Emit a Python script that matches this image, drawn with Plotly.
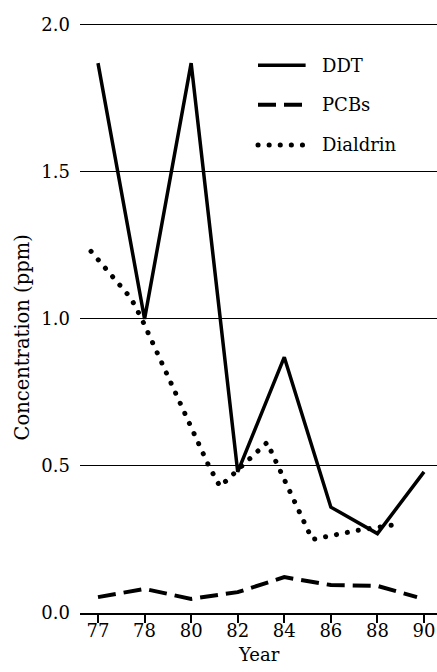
import plotly.graph_objects as go

# ---- data ----
year_labels = ["77", "78", "80", "82", "84", "86", "88", "90"]
year_slots = [0, 1, 2, 3, 4, 5, 6, 7]          # equally spaced tick slots

ddt_x = [0, 1, 2, 3, 4, 5, 6, 7]
ddt_y = [1.87, 1.00, 1.87, 0.48, 0.87, 0.36, 0.27, 0.48]

pcb_x = [0, 1, 2, 3, 4, 5, 6, 6.85]
pcb_y = [0.054, 0.082, 0.048, 0.071, 0.122, 0.095, 0.092, 0.054]

dial_x = [-0.15, 0.71, 0.94, 2.38, 2.62, 3.63, 4.60, 5.54, 6.36]
dial_y = [1.23, 1.07, 1.00, 0.50, 0.43, 0.58, 0.25, 0.28, 0.30]

y_ticks = [0.0, 0.5, 1.0, 1.5, 2.0]
series_names = ["DDT", "PCBs", "Dialdrin"]

FONT = "DejaVu Serif"
DOT_DASH = "0.1px,11px"
PCB_DASH = "18px,8px"

fig = go.Figure()
fig.add_trace(go.Scatter(x=ddt_x, y=ddt_y, mode="lines", name=series_names[0],
                         line=dict(color="black", width=3.5)))
fig.add_trace(go.Scatter(x=pcb_x, y=pcb_y, mode="lines", name=series_names[1],
                         line=dict(color="black", width=4, dash=PCB_DASH)))
fig.add_trace(go.Scatter(x=dial_x, y=dial_y, mode="lines", name=series_names[2],
                         line=dict(color="black", width=5, dash=DOT_DASH)))

# manual legend (line samples + labels)
leg_rows = [0.927, 0.860, 0.792]
leg_styles = [dict(width=3.5), dict(width=4, dash=PCB_DASH), dict(width=5, dash=DOT_DASH)]
shapes = []
annotations = []
for name, yy, st in zip(series_names, leg_rows, leg_styles):
    shapes.append(dict(type="line", xref="paper", yref="paper", x0=0.4986, x1=0.632,
                       y0=yy, y1=yy, line=dict(color="black", **st)))
    annotations.append(dict(text=name, xref="paper", yref="paper", x=0.672, y=yy,
                            xanchor="left", yanchor="middle", showarrow=False,
                            font=dict(family=FONT, size=18, color="black")))

annotations.append(dict(text="Concentration (ppm)", xref="paper", yref="paper",
                        x=-0.16, y=0.466, textangle=-90, showarrow=False,
                        xanchor="center", yanchor="middle",
                        font=dict(family=FONT, size=19.5, color="black")))
annotations.append(dict(text="Year", xref="paper", yref="paper", x=0.5, y=-0.071,
                        showarrow=False, xanchor="center", yanchor="middle",
                        font=dict(family=FONT, size=18, color="black")))

fig.update_layout(
    width=437, height=672,
    margin=dict(l=80, r=0, t=22, b=59),
    paper_bgcolor="white", plot_bgcolor="white",
    showlegend=False,
    font=dict(family=FONT, size=18, color="black"),
    shapes=shapes, annotations=annotations,
)
fig.update_xaxes(range=[-0.3865, 7.279], tickvals=year_slots, ticktext=year_labels,
                 showgrid=False, zeroline=False, showline=True, linecolor="black",
                 linewidth=1.6, ticks="outside", ticklen=8, tickwidth=1.6,
                 tickcolor="black", ticklabelstandoff=-7,
                 tickfont=dict(family=FONT, size=18, color="black"))
fig.update_yaxes(range=[0, 2.01], tickvals=y_ticks, tickformat=".1f",
                 showgrid=True, gridcolor="black", gridwidth=1.3, zeroline=False,
                 showline=False, ticks="", ticklabelstandoff=9,
                 tickfont=dict(family=FONT, size=18, color="black"))

post = """
document.body.style.margin = '0';
document.body.style.padding = '0';
document.documentElement.style.overflow = 'hidden';
var gd = document.getElementById('{plot_id}');
function roundDots(){
  gd.querySelectorAll('path').forEach(function(p){
    var d = p.style.strokeDasharray || p.getAttribute('stroke-dasharray') || '';
    if (d.indexOf('0.1') === 0) { p.style.strokeLinecap = 'round'; }
  });
}
roundDots();
if (gd.on) { gd.on('plotly_afterplot', roundDots); }
"""
fig.write_html("out.html", post_script=post, config={"displayModeBar": False})
